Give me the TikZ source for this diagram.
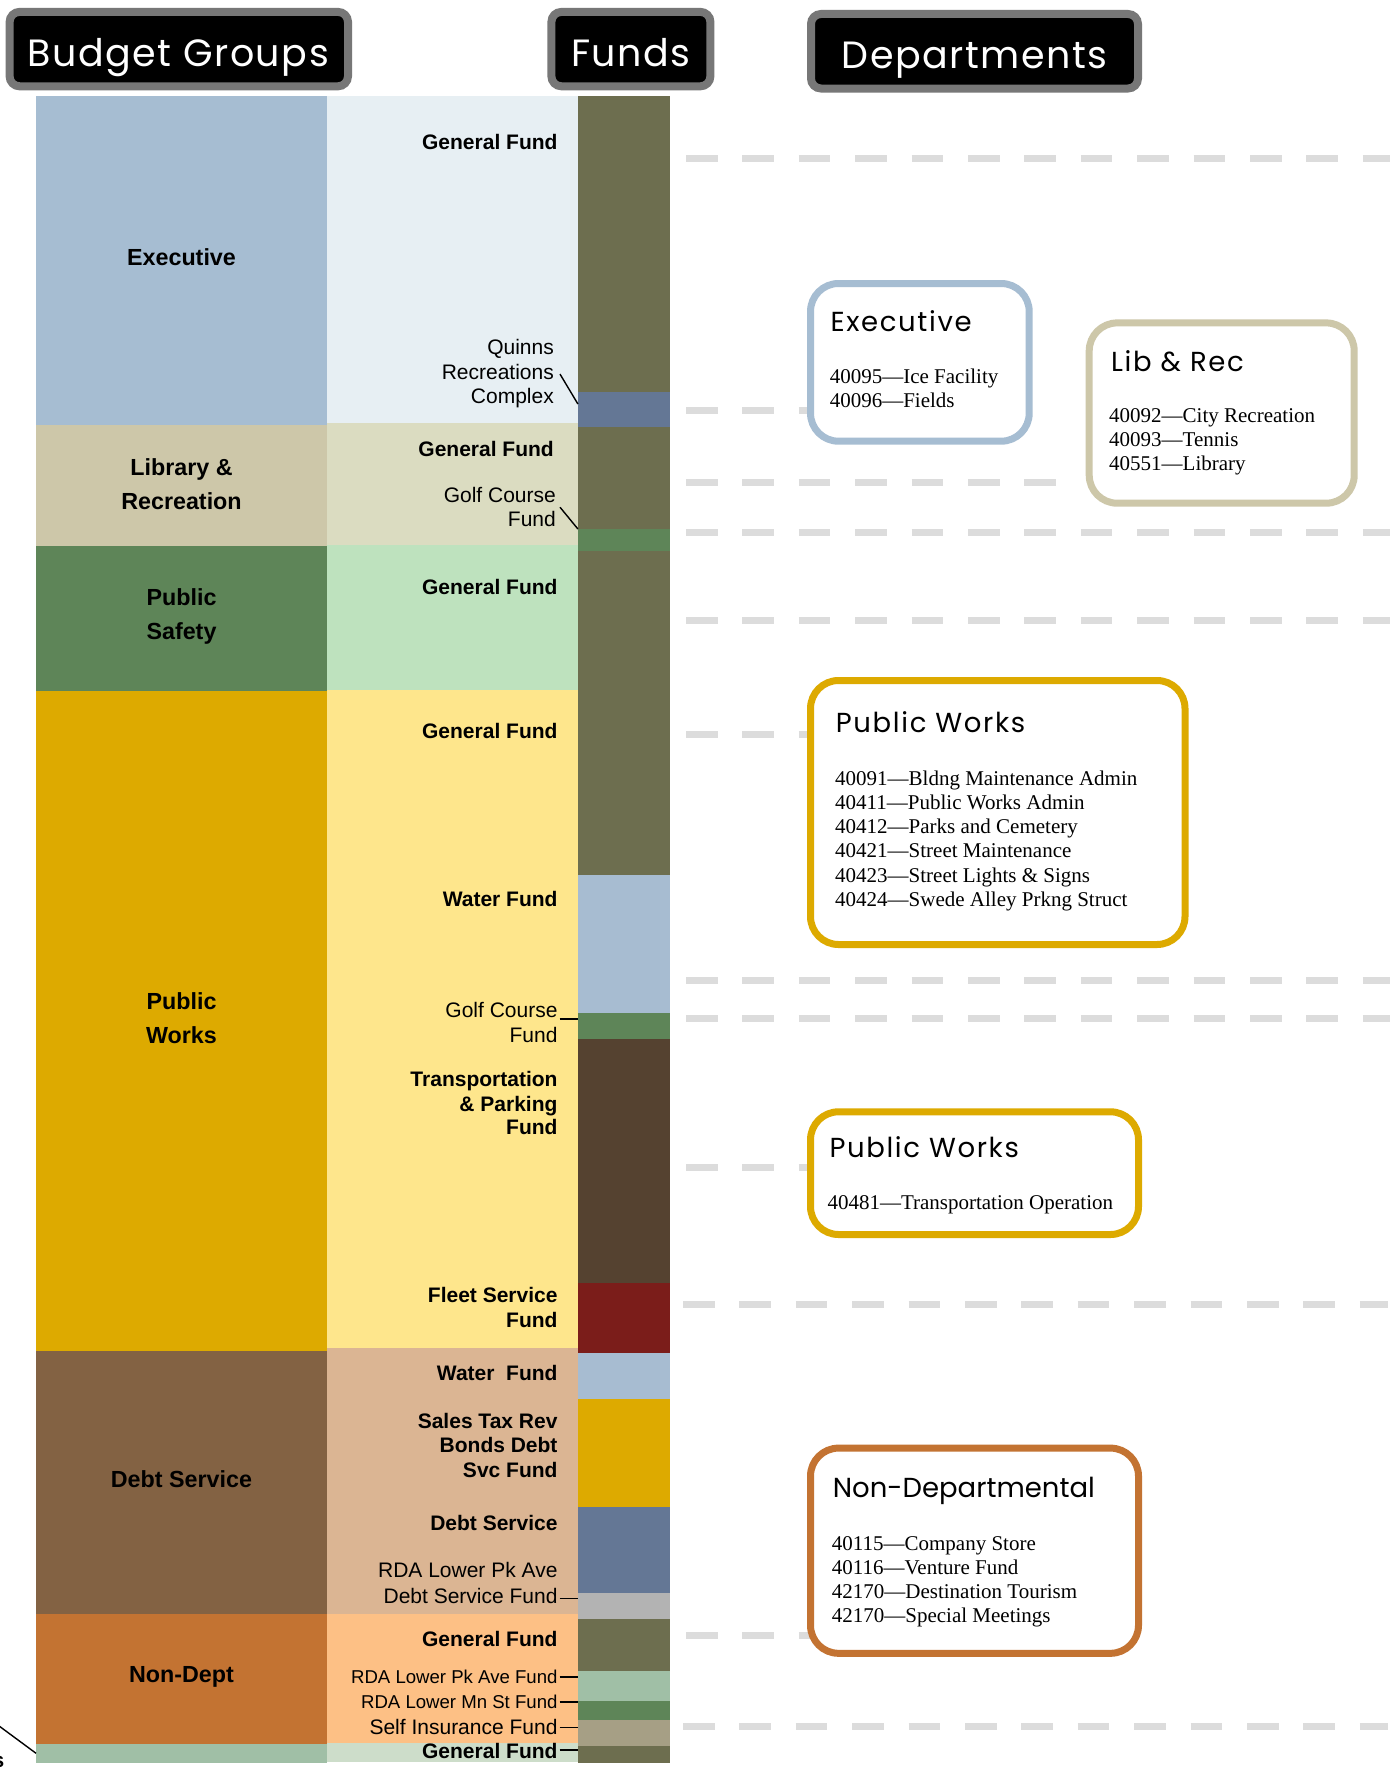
\documentclass[tikz,border=0pt]{standalone}
\usepackage{fontspec}
\setmainfont{Liberation Sans}
\newfontfamily\listfont{Liberation Serif}
\newfontfamily\titlefont{Poppins}

% column fills
\definecolor{execblue}{HTML}{A6BDD2}
\definecolor{execlight}{HTML}{E7EFF3}
\definecolor{libtan}{HTML}{CDC7A9}
\definecolor{liblight}{HTML}{DBDCC1}
\definecolor{psgreen}{HTML}{5E8558}
\definecolor{pslight}{HTML}{BEE2BE}
\definecolor{pwgold}{HTML}{DDAA00}
\definecolor{pwlight}{HTML}{FEE68C}
\definecolor{debtbrown}{HTML}{836243}
\definecolor{debtlight}{HTML}{DBB593}
\definecolor{nonorange}{HTML}{C37332}
\definecolor{nonlight}{HTML}{FDC085}
\definecolor{botgreen}{HTML}{A0BFA6}
\definecolor{botlight}{HTML}{CDDDCA}
% fund bar colours
\definecolor{olive}{HTML}{6D6E4F}
\definecolor{slate}{HTML}{647795}
\definecolor{fgreen}{HTML}{5E8558}
\definecolor{fblue}{HTML}{A7BCD1}
\definecolor{fbrown}{HTML}{554230}
\definecolor{fred}{HTML}{7B1D1A}
\definecolor{fgold}{HTML}{DDAA00}
\definecolor{fgrey}{HTML}{B3B3B3}
\definecolor{fpale}{HTML}{A0BFA6}
\definecolor{ftan}{HTML}{A69F85}
% chrome
\definecolor{headgrey}{HTML}{777777}
\definecolor{dashgrey}{HTML}{DCDCDC}

% \band{name}{colour}{x1}{y1}{x2}{y2}: a filled strip as a named node
\newcommand\band[6]{%
  \node[band, fill=#2, minimum width={(#5-#3)*1pt}, minimum height={(#6-#4)*1pt}]
    (#1) at ({(#3+#5)/2},{(#4+#6)/2}) {};}
% \boxat{name}{style}{x1}{y1}{x2}{y2}: an outlined box as a named node
\newcommand\boxat[6]{%
  \node[#2, minimum width={(#5-#3)*1pt}, minimum height={(#6-#4)*1pt}]
    (#1) at ({(#3+#5)/2},{(#4+#6)/2}) {};}

\begin{document}
\begin{tikzpicture}[x=1pt,y=-1pt,
  band/.style={rectangle, inner sep=0pt, outer sep=0pt, draw=none},
  head/.style={rectangle, draw=headgrey, line width=8pt, fill=black, rounded corners=10pt, inner sep=0pt},
  headtext/.style={anchor=base, text=white, inner sep=0pt,
    font=\titlefont\fontsize{38}{40}\selectfont\addfontfeature{LetterSpace=4}},
  grp/.style={align=center, inner sep=0pt, font=\bfseries\fontsize{23.3}{33.9}\selectfont},
  fl/.style={anchor=base east, inner sep=0pt, font=\fontsize{21}{24.4}\selectfont},
  flb/.style={anchor=base east, inner sep=0pt, font=\bfseries\fontsize{21}{24.4}\selectfont},
  fls/.style={anchor=base east, inner sep=0pt, font=\fontsize{18.6}{22}\selectfont},
  leader/.style={draw=black, line width=1.4pt},
  gdash/.style={draw=dashgrey, line width=7pt, dash pattern=on 31.6pt off 24.8pt},
  dept/.style={rectangle, draw=#1, line width=7pt, fill=white, rounded corners=28pt, inner sep=0pt},
  dtitle/.style={anchor=base west, inner sep=0pt,
    font=\titlefont\fontsize{27.5}{30}\selectfont\addfontfeature{LetterSpace=6}},
  dtitlewide/.style={anchor=base west, inner sep=0pt, font=\titlefont\fontsize{27.5}{30}\selectfont},
  dline/.style={anchor=base west, inner sep=0pt, font=\listfont\fontsize{21}{24}\selectfont},
]
\useasboundingbox (0,0) rectangle (1395,1769);
\fill[white] (0,0) rectangle (1395,1769);

% ---------- column headers ----------
\boxat{hbg}{head}{9.6}{11.9}{348}{86.3}
\boxat{hfunds}{head}{551.4}{11.9}{710.4}{86.3}
\boxat{hdept}{head}{811}{14}{1138}{88.5}
\node[headtext] (hbgt) at (178.3,66.7) {Budget Groups};
\node[headtext] (hfundst) at (631,66.7) {Funds};
\node[headtext] (hdeptt) at (974.5,68.3) {Departments};

% ---------- budget groups ----------
\band{gexec}{execblue}{36}{95.5}{327}{425}
\band{glib}{libtan}{36}{425}{327}{546}
\band{gps}{psgreen}{36}{546}{327}{691}
\band{gpw}{pwgold}{36}{691}{327}{1351}
\band{gdebt}{debtbrown}{36}{1351}{327}{1614}
\band{gnon}{nonorange}{36}{1614}{327}{1744}
\band{gbot}{botgreen}{36}{1744}{327}{1762.5}

\node[grp] (lexec) at (181.5,257.3) {Executive};
\node[grp] (llib) at (181.5,484.2) {Library \&\\Recreation};
\node[grp] (lps) at (181.5,616.2) {Public\\Safety};
\node[grp] (lpw) at (181.5,1018) {Public\\Works};
\node[grp] (ldebt) at (181.5,1479.6) {Debt Service};
\node[grp] (lnon) at (181.5,1677.1) {Non-Dept};

% ---------- fund label column ----------
\band{mexec}{execlight}{327}{95.5}{578}{423}
\band{mlib}{liblight}{327}{423}{578}{545}
\band{mps}{pslight}{327}{545}{578}{690}
\band{mpw}{pwlight}{327}{690}{578}{1348}
\band{mdebt}{debtlight}{327}{1348}{578}{1614}
\band{mnon}{nonlight}{327}{1614}{578}{1743}
\band{mbot}{botlight}{327}{1743}{578}{1762}

% ---------- fund bar ----------
\band{fo1}{olive}{577.9}{96}{670.4}{392}
\band{fs1}{slate}{577.9}{392}{670.4}{427}
\band{fo2}{olive}{577.9}{427}{670.4}{529}
\band{fg1}{fgreen}{577.9}{529}{670.4}{550.5}
\band{fo3}{olive}{577.9}{550.5}{670.4}{875}
\band{fb1}{fblue}{577.9}{875}{670.4}{1013}
\band{fg2}{fgreen}{577.9}{1013}{670.4}{1039}
\band{fbr}{fbrown}{577.9}{1039}{670.4}{1283}
\band{frd}{fred}{577.9}{1283}{670.4}{1353}
\band{fb2}{fblue}{577.9}{1353}{670.4}{1398.6}
\band{fgd}{fgold}{577.9}{1398.6}{670.4}{1507}
\band{fs2}{slate}{577.9}{1507}{670.4}{1592.5}
\band{fgy}{fgrey}{577.9}{1592.5}{670.4}{1618.5}
\band{fo4}{olive}{577.9}{1618.5}{670.4}{1670.5}
\band{fpg}{fpale}{577.9}{1670.5}{670.4}{1701.3}
\band{fg3}{fgreen}{577.9}{1701.3}{670.4}{1720.3}
\band{ftn}{ftan}{577.9}{1720.3}{670.4}{1745.7}
\band{fo5}{olive}{577.9}{1745.7}{670.4}{1762.5}

% ---------- fund labels ----------
\node[flb] (t1) at (557.7,149.8) {General Fund};
\node[fl] (q1) at (554,354.2) {Quinns};
\node[fl] (q2) at (554,379.1) {Recreations};
\node[fl] (q3) at (554,403) {Complex};
\node[flb] (t2) at (554,456.1) {General Fund};
\node[fl] (lg1) at (556,502.2) {Golf Course};
\node[fl] (lg2) at (556,526.6) {Fund};
\node[flb] (t3) at (557.7,594.4) {General Fund};
\node[flb] (t4) at (557.7,738) {General Fund};
\node[flb] (t5) at (557.7,906.1) {Water Fund};
\node[fl] (pg1) at (557.7,1017.9) {Golf Course};
\node[fl] (pg2) at (557.7,1042.3) {Fund};
\node[flb] (tp1) at (557.7,1086.1) {Transportation};
\node[flb] (tp2) at (557.7,1111.6) {\& Parking};
\node[flb] (tp3) at (557.7,1134.9) {Fund};
\node[flb] (fs1t) at (557.7,1302.2) {Fleet Service};
\node[flb] (fs2t) at (557.7,1327.1) {Fund};
\node[flb] (t6) at (557.7,1380.1) {Water\ \ Fund};
\node[flb] (st1) at (557.7,1428.3) {Sales Tax Rev};
\node[flb] (st2) at (557.7,1452.7) {Bonds Debt};
\node[flb] (st3) at (557.7,1477.1) {Svc Fund};
\node[flb] (t7) at (557.7,1530.1) {Debt Service};
\node[fl] (rd1) at (557.7,1577.2) {RDA Lower Pk Ave};
\node[fl] (rd2) at (557.7,1603.2) {Debt Service Fund};
\node[flb] (t8) at (557.7,1646) {General Fund};
\node[fls] (rp) at (557.7,1683.7) {RDA Lower Pk Ave Fund};
\node[fls] (rm) at (557.7,1708.6) {RDA Lower Mn St Fund};
\node[fl] (si) at (557.7,1734.8) {Self Insurance Fund};
\node[flb] (t9) at (557.7,1758.6) {General Fund};

% leaders from labels to their fund segments
\draw[leader] ([xshift=6pt,yshift=5pt]q2.base east) -- ([yshift=-12pt]fs1.north west);
\draw[leader] ([xshift=4pt,yshift=-5pt]lg1.base east) -- (fg1.north west);
\coordinate (pgl) at ([xshift=2pt,yshift=-1pt]pg1.base east);
\draw[leader] (pgl) -- (pgl -| fg2.west);
\coordinate (rdl) at ([xshift=2pt,yshift=5pt]rd2.base east);
\draw[leader] (rdl) -- (rdl -| fgy.west);
\coordinate (rpl) at ([xshift=2pt,yshift=6.7pt]rp.base east);
\draw[leader] (rpl) -- (rpl -| fpg.west);
\coordinate (rml) at ([xshift=2pt,yshift=6.7pt]rm.base east);
\draw[leader] (rml) -- (rml -| fg3.west);
\coordinate (sil) at ([xshift=2pt,yshift=7.5pt]si.base east);
\draw[leader] (sil) -- (sil -| ftn.west);
\coordinate (t9l) at ([xshift=2pt,yshift=8.6pt]t9.base east);
\draw[leader] (t9l) -- (t9l -| fo5.west);

% label running off the left edge
\node[anchor=base east, inner sep=0pt, font=\bfseries\fontsize{21}{24}\selectfont] (cut) at (4.5,1767) {s};
\coordinate (offleft) at (-12,1717.8);
\draw[leader] (offleft) -- (gbot.west);

% ---------- separators ----------
\foreach \yy/\xa/\xb in {158.6/686/1390, 410.7/686/812, 482.8/686/1057,
    532.6/686/1390, 620.5/686/1390, 734.8/686/812, 980/686/1390,
    1018.5/686/1390, 1167/686/812, 1304.4/683/1388, 1635/686/812,
    1726.7/683/1388}
  \draw[gdash] (\xa,\yy) -- (\xb,\yy);

% ---------- department boxes ----------
\boxat{dexec}{dept=execblue}{810.5}{283.5}{1029.2}{441.2}
\node[dtitle] (dexect) at (830.4,331.7) {Executive};
\node[dline] (de1) at (829.6,383.8) {40095—Ice Facility};
\node[dline] (de2) at (829.6,407) {40096—Fields};

\boxat{dlib}{dept=libtan}{1089.2}{322.9}{1354.2}{503.2}
\node[dtitle] (dlibt) at (1111,371) {Lib \& Rec};
\node[dline] (dl1) at (1109,422) {40092—City Recreation};
\node[dline] (dl2) at (1109,446.4) {40093—Tennis};
\node[dline] (dl3) at (1109,470.8) {40551—Library};

\boxat{dpw}{dept=pwgold}{810.5}{680.5}{1185}{944.5}
\node[dtitle] (dpwt) at (835.7,732.7) {Public Works};
\node[dline] (dp1) at (835,785) {40091—Bldng Maintenance Admin};
\node[dline] (dp2) at (835,809.3) {40411—Public Works Admin};
\node[dline] (dp3) at (835,833.6) {40412—Parks and Cemetery};
\node[dline] (dp4) at (835,857.9) {40421—Street Maintenance};
\node[dline] (dp5) at (835,882.2) {40423—Street Lights \& Signs};
\node[dline] (dp6) at (835,906.5) {40424—Swede Alley Prkng Struct};

\boxat{dtr}{dept=pwgold}{810.5}{1111.8}{1138.5}{1234.5}
\node[dtitle] (dtrt) at (829.3,1157.7) {Public Works};
\node[dline] (dt1) at (827.3,1209.3) {40481—Transportation Operation};

\boxat{dnon}{dept=nonorange}{810.5}{1448.1}{1138.5}{1653.3}
\node[dtitlewide] (dnont) at (832.7,1497.7) {Non-Departmental};
\node[dline] (dn1) at (831.7,1550) {40115—Company Store};
\node[dline] (dn2) at (831.7,1574.3) {40116—Venture Fund};
\node[dline] (dn3) at (831.7,1598.6) {42170—Destination Tourism};
\node[dline] (dn4) at (831.7,1622.9) {42170—Special Meetings};
\end{tikzpicture}
\end{document}
